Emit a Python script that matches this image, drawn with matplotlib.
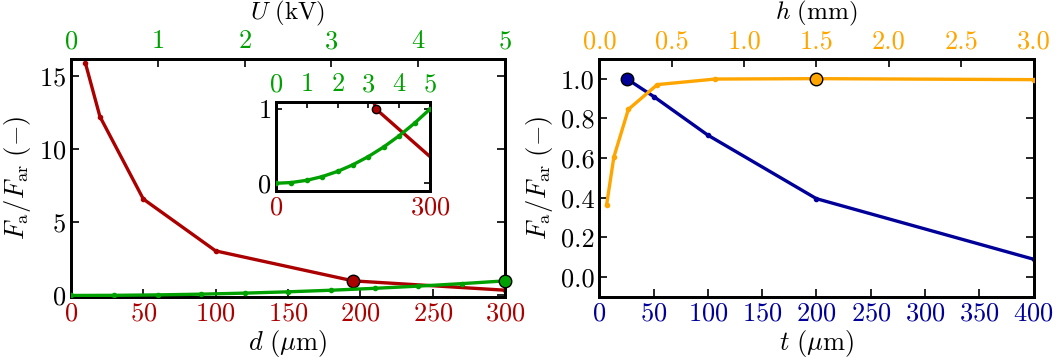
import matplotlib
matplotlib.use('Agg')
import matplotlib.pyplot as plt

plt.rcParams['font.family'] = 'serif'
plt.rcParams['font.serif'] = ['cmr10']
plt.rcParams['mathtext.fontset'] = 'cm'
plt.rcParams['axes.unicode_minus'] = False
plt.rcParams['axes.formatter.use_mathtext'] = True
plt.rcParams['font.size'] = 19

red = '#aa0000'
green = '#00a000'
blue = '#000099'
orange = '#ffa500'

# gap d (um) -> force ratio
d = [10, 20, 50, 100, 195, 300]
Fd = [15.9, 12.25, 6.6, 3.05, 1.0, 0.36]
# voltage U (kV) -> force ratio
U = [0, 0.5, 1.0, 1.5, 2.0, 2.5, 3.0, 3.5, 4.0, 4.5, 5.0]
FU = [0.0, 0.01, 0.04, 0.09, 0.16, 0.25, 0.36, 0.49, 0.64, 0.81, 1.0]
# thickness t (um) -> force ratio
t = [25, 50, 100, 200, 400]
Ft = [1.0, 0.91, 0.715, 0.395, 0.09]
# height h (mm) -> force ratio
h = [0.05, 0.1, 0.2, 0.4, 0.8, 1.5, 3.0]
Fh = [0.365, 0.605, 0.845, 0.97, 0.998, 1.0, 0.995]

# reference points
d_ref, U_ref, t_ref, h_ref = 195, 5.0, 25, 1.5

LW = 2.4
MS_BIG = 9

def style(ax, top=True):
    ax.tick_params(direction='in', length=6, width=1.2, right=True, top=top)
    for s in ax.spines.values():
        s.set_linewidth(2)

fig = plt.figure(figsize=(10.59, 3.63), dpi=100)

# left panel
ax1 = fig.add_axes([0.067, 0.182, 0.410, 0.656])
ax1.plot(d, Fd, '-o', color=red, lw=LW, ms=3, zorder=3)
ax1.plot(d_ref, Fd[d.index(d_ref)], 'o', color=red, mec='k', ms=MS_BIG, zorder=4)
ax1.set_xlim(0, 300)
ax1.set_ylim(-0.1, 16.2)
ax1.set_xticks([0, 50, 100, 150, 200, 250, 300])
ax1.set_yticks([0, 5, 10, 15])
ax1.set_xlabel(r'$d\ (\mu\mathrm{m})$', labelpad=2)
ax1.set_ylabel(r'$F_\mathrm{a}/F_\mathrm{ar}\ (-)$', labelpad=4)
ax1.tick_params(axis='x', colors='k', labelcolor=red)
style(ax1, top=False)

ax1t = ax1.twiny()
ax1t.plot(U, FU, '-o', color=green, lw=LW, ms=3, zorder=3)
ax1t.plot(U_ref, FU[U.index(U_ref)], 'o', color=green, mec='k', ms=MS_BIG, zorder=4, clip_on=False)
ax1t.set_xlim(0, 5)
ax1t.set_xticks([0, 1, 2, 3, 4, 5])
ax1t.set_xlabel(r'$U\ (\mathrm{kV})$', fontsize=18, va='bottom')
ax1t.xaxis.set_label_coords(0.5, 1.13)
ax1t.tick_params(axis='x', direction='in', length=6, width=1.2, labelcolor=green, pad=4)
for s in ax1t.spines.values():
    s.set_linewidth(2)

# inset
ins = fig.add_axes([0.2606, 0.4747, 0.1454, 0.2452])
ins.plot(d, Fd, '-', color=red, lw=LW, zorder=3)
ins.plot(d_ref, Fd[d.index(d_ref)], 'o', color=red, mec='k', ms=6, zorder=4)
ins.set_xlim(0, 300)
ins.set_ylim(-0.1, 1.1)
ins.set_xticks([0, 300])
ins.set_yticks([0, 1])
ins.tick_params(axis='x', labelcolor=red)
style(ins, top=False)
ins.tick_params(length=4)
ins_t = ins.twiny()
ins_t.plot(U, FU, '-o', color=green, lw=LW, ms=3, zorder=3)
ins_t.set_xlim(0, 5)
ins_t.set_xticks([0, 1, 2, 3, 4, 5])
ins_t.tick_params(axis='x', direction='in', length=4, width=1.2, labelcolor=green, pad=4)
for s in ins_t.spines.values():
    s.set_linewidth(2)

# right panel
ax2 = fig.add_axes([0.566, 0.182, 0.410, 0.656])
ax2.plot(t, Ft, '-o', color=blue, lw=LW, ms=3, zorder=3)
ax2.plot(t_ref, Ft[t.index(t_ref)], 'o', color=blue, mec='k', ms=MS_BIG, zorder=4)
ax2.set_xlim(0, 400)
ax2.set_ylim(-0.1, 1.1)
ax2.set_xticks(range(0, 401, 50))
ax2.set_yticks([0.0, 0.2, 0.4, 0.6, 0.8, 1.0])
ax2.set_yticklabels(['0.0', '0.2', '0.4', '0.6', '0.8', '1.0'])
ax2.set_xlabel(r'$t\ (\mu\mathrm{m})$', labelpad=2)
ax2.set_ylabel(r'$F_\mathrm{a}/F_\mathrm{ar}\ (-)$', labelpad=4)
ax2.tick_params(axis='x', labelcolor=blue)
style(ax2, top=False)

ax2t = ax2.twiny()
ax2t.plot(h, Fh, '-o', color=orange, lw=LW, ms=3, zorder=3)
ax2t.plot(h_ref, Fh[h.index(h_ref)], 'o', color=orange, mec='k', ms=MS_BIG, zorder=4)
ax2t.set_xlim(0, 3)
ax2t.set_xticks([0, 0.5, 1.0, 1.5, 2.0, 2.5, 3.0])
ax2t.set_xticklabels(['0.0', '0.5', '1.0', '1.5', '2.0', '2.5', '3.0'])
ax2t.set_xlabel(r'$h\ (\mathrm{mm})$', fontsize=18, va='bottom')
ax2t.xaxis.set_label_coords(0.5, 1.13)
ax2t.tick_params(axis='x', direction='in', length=6, width=1.2, labelcolor=orange, pad=4)
for s in ax2t.spines.values():
    s.set_linewidth(2)

fig.savefig('out.png', dpi=100)
